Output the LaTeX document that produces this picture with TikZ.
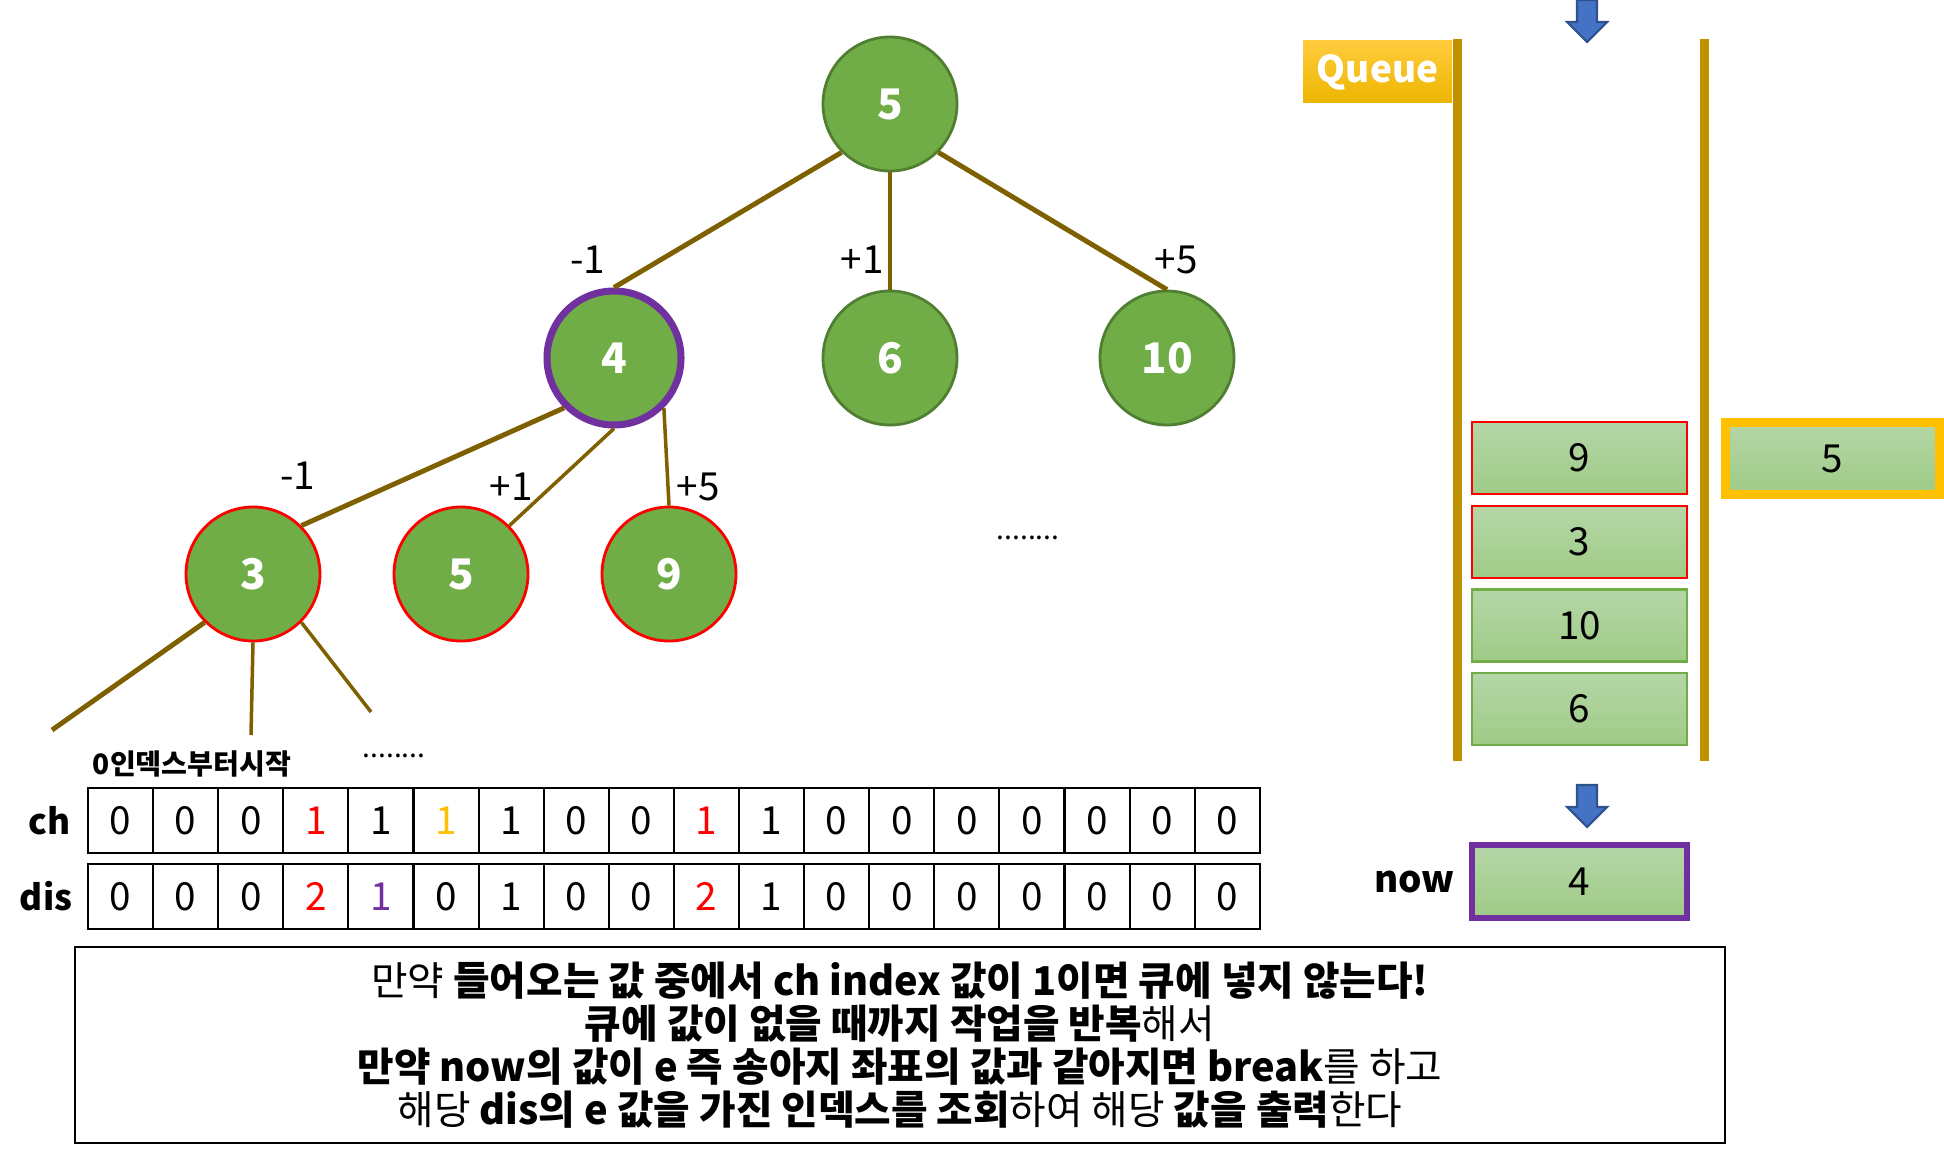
\documentclass[tikz,border=0pt]{standalone}
\usepackage{fontspec}
\setmainfont{Noto Sans CJK KR}
\usetikzlibrary{positioning}
\definecolor{tgreen}{HTML}{70AD47}
\definecolor{tdark}{HTML}{507E32}
\definecolor{branchc}{HTML}{7F6000}
\definecolor{mred}{HTML}{FF0000}
\definecolor{myellow}{HTML}{FFC000}
\definecolor{mpurple}{HTML}{7030A0}
\definecolor{wallc}{HTML}{BF9000}
\definecolor{qtop}{HTML}{B5D6A7}
\definecolor{qbot}{HTML}{9FCB86}
\definecolor{arrowc}{HTML}{4472C4}
\definecolor{arrowd}{HTML}{2F528F}
\definecolor{labtop}{HTML}{FFCB3D}
\definecolor{labbot}{HTML}{EDB600}

\begin{document}
\begin{tikzpicture}[
		tnode/.style={circle, fill=tgreen, draw=tdark, line width=0.8pt, minimum size=1.34cm, inner sep=0pt, text=white, font=\fontsize{12}{14}\selectfont\bfseries},
		redring/.style={draw=mred},
		wlabel/.style={inner sep=0pt, font=\fontsize{11}{13}\selectfont},
		branch/.style={draw=branchc, line width=1.4pt},
		thinbranch/.style={draw=branchc, line width=1pt},
		cell/.style={draw, line width=0.6pt, minimum width=0.651cm, minimum height=0.65cm, inner sep=0pt, font=\fontsize{11}{13}\selectfont},
		rowlbl/.style={inner sep=0pt, font=\fontsize{10}{12}\selectfont\bfseries},
		qbox/.style={top color=qtop, bottom color=qbot, minimum width=2.15cm, minimum height=0.72cm, inner sep=0pt, line width=0.6pt, font=\fontsize{11}{13}\selectfont},
		wall/.style={wallc, line width=0.09cm},
		blockarrow/.style={fill=arrowc, draw=arrowd, line width=0.6pt},
		dotsnode/.style={inner sep=0pt, anchor=base, font=\fontsize{8}{10}\selectfont}
	]
	\useasboundingbox (0,0) rectangle (19.44,-11.58);

	\node[tnode] (root) at (8.90,-1.04) {5};
	\node[tnode, draw=mpurple, line width=2pt] (n4) at (6.14,-3.58) {4};
	\node[tnode] (n6) at (8.90,-3.58) {6};
	\node[tnode] (n10) at (11.67,-3.58) {10};
	\node[tnode, redring] (n3) at (2.53,-5.74) {3};
	\node[tnode, redring] (n5) at (4.61,-5.74) {5};
	\node[tnode, redring] (n9) at (6.69,-5.74) {9};
	\coordinate (c1) at (0.52,-7.30);
	\coordinate (c2) at (2.51,-7.35);
	\coordinate (c3) at (3.71,-7.12);

	\draw[branch] (root.225) -- (n4.north);
	\draw[branch] (root.south) -- (n6.north);
	\draw[branch] (root.-45) -- (n10.north);
	\draw[branch] (n4.225) -- (n3.45);
	\draw[thinbranch] (n4.south) -- (n5.45);
	\draw[thinbranch] (n4.-45) -- (n9.north);
	\draw[branch] (n3.225) -- (c1);
	\draw[thinbranch] (n3.south) -- (c2);
	\draw[thinbranch] (n3.-45) -- (c3);

	\node[wlabel] (w1) at (5.88,-2.60) {-1};
	\node[wlabel] (w2) at (8.62,-2.60) {+1};
	\node[wlabel] (w3) at (11.76,-2.60) {+5};
	\node[wlabel] (w4) at (2.98,-4.76) {-1};
	\node[wlabel] (w5) at (5.11,-4.87) {+1};
	\node[wlabel] (w6) at (6.98,-4.87) {+5};
	\node[dotsnode] (more1) at (10.28,-5.39) {........};
	\node[dotsnode] (more2) at (3.94,-7.57) {........};
	\node[inner sep=0pt, font=\fontsize{8}{10}\selectfont\bfseries] (start) at (1.92,-7.64) {0인덱스부터시작};

	\foreach \v/\c [count=\i from 0] in {0/black,0/black,0/black,1/mred,1/black,1/myellow,1/black,0/black,0/black,1/mred,1/black,0/black,0/black,0/black,0/black,0/black,0/black,0/black}
		\node[cell, text=\c] (ch\i) at ({1.2055+0.651*\i},-8.205) {\v};
	\foreach \v/\c [count=\i from 0] in {0/black,0/black,0/black,2/mred,1/mpurple,0/black,1/black,0/black,0/black,2/mred,1/black,0/black,0/black,0/black,0/black,0/black,0/black,0/black}
		\node[cell, text=\c] (dis\i) at ({1.2055+0.651*\i},-8.965) {\v};
	\node[rowlbl, left=0.16cm of ch0] (chlbl) {ch};
	\node[rowlbl, left=0.14cm of dis0] (dislbl) {dis};

	\node[top color=labtop, bottom color=labbot, minimum width=1.49cm, minimum height=0.62cm, inner sep=0pt, text=white, font=\fontsize{10.5}{12}\selectfont\bfseries] (qlbl) at (13.775,-0.72) {Queue};
	\draw[wall] (14.57,-0.39) -- (14.57,-7.61);
	\draw[wall] (17.04,-0.39) -- (17.04,-7.61);
	\foreach \y in {0,-7.85}
		\draw[blockarrow, shift={(0,\y)}] (15.77,0) -- (15.97,0) -- (15.97,-0.22) -- (16.07,-0.22) -- (15.87,-0.42) -- (15.67,-0.22) -- (15.77,-0.22) -- cycle;

	\node[qbox, draw=mred] (q9) at (15.795,-4.58) {9};
	\node[qbox, draw=mred] (q3) at (15.795,-5.42) {3};
	\node[qbox, draw=tgreen] (q10) at (15.795,-6.255) {10};
	\node[qbox, draw=tgreen] (q6) at (15.795,-7.09) {6};
	\node[qbox, draw=myellow, minimum width=2.14cm, line width=0.09cm] (q5) at (18.325,-4.585) {5};
	\node[qbox, draw=mpurple, minimum height=0.73cm, line width=0.055cm] (nowbox) at (15.795,-8.815) {4};
	\node[rowlbl, font=\fontsize{10.5}{12}\selectfont\bfseries, left=0.14cm of nowbox] (nowlbl) {now};

	\node[draw, line width=0.7pt, minimum width=16.5cm, minimum height=1.96cm, align=center, font=\fontsize{11.3}{12.3}\selectfont] (desc) at (9.00,-10.45) {만약 \textbf{들어오는 값 중에서 ch index 값이 1이면 큐에 넣지 않는다!}\\\textbf{큐에 값이 없을 때까지 작업을 반복}해서\\\textbf{만약 now의 값이 e 즉 송아지 좌표의 값과 같아지면 break}를 하고\\해당 \textbf{dis의 e 값을 가진 인덱스를 조회}하여 해당 \textbf{값을 출력}한다};
\end{tikzpicture}
\end{document}
